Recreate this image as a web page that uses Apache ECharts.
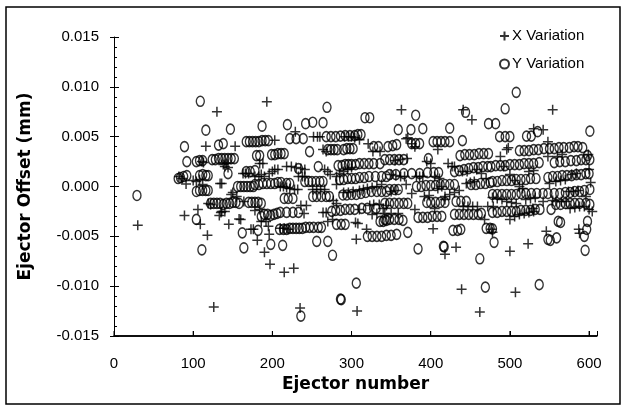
<!DOCTYPE html>
<html>
<head>
<meta charset="utf-8">
<script src="https://cdn.jsdelivr.net/npm/echarts@6/dist/echarts.min.js"></script>
<style>
  html, body { margin: 0; padding: 0; background: #fff; }
  #chart { width: 624px; height: 406px; }
</style>
</head>
<body>
<div id="chart"></div>
<script>
// ejector number, offset in micrometres
const xVariation = [
  [30,-3.9],
  [82,1.0],[86,0.8],[91,0.25],[89,-2.9],[100,0.6],[104,0.5],[106,-2.3],[108,0.7],[109,-3.8],[111,2.5],[112,0.2],[113,2.4],[116,4.05],[118,-4.9],[119,-1.7],[122,-1.8],[126,-12.1],[130,7.5],[133,-2.9],[134,0.3],[135,-2.6],
  [136,-2.5],[140,-2.5],[138,2.2],[140,2.0],[142,2.3],[144,1.9],[145,-3.8],[148,-0.8],[150,-0.6],[153,4.05],[136,0.3],
  [155,-1.0],[158,-3.25],[160,-3.3],[163,1.3],[166,1.3],[170,1.3],[173,-4.3],[176,-4.3],[164,-1.5],
  [178,1.0],[181,-5.4],[183,1.0],[184,2.3],[188,2.3],[186,1.2],
  [190,-6.6],[193,8.5],[195,-4.0],[196,-4.8],[197,-7.8],[190,1.0],[196,1.3],[200,1.5],[203,1.7],[203,4.65],[207,1.7],
  [178,-2.4],[184,-2.3],[186,-3.5],[192,-3.5],
  [210,0.0],[214,0.0],[218,-0.1],[222,-0.2],[228,-0.3],[232,-0.3],
  [215,-8.6],[227,-8.2],[229,5.5],[235,-12.2],[236,-1.9],
  [218,2.0],[224,2.0],[230,1.9],[236,1.8],[241,1.7],
  [233,1.0],[238,1.0],[241,1.0],[243,-1.9],
  [210,-4.2],[215,-4.2],[220,-4.3],[240,-2.7],
  [251,-0.3],[256,-0.3],[261,-0.3],[266,-0.3],
  [252,5.0],[257,5.0],[260,5.0],[264,3.7],[268,3.5],[264,-2.6],[268,-2.6],
  [266,1.7],[270,1.5],[273,1.2],[277,-1.4],[281,-1.7],[281,1.0],[281,0.2],
  [270,-3.5],[276,-3.3],
  [285,1.3],[290,1.5],[295,1.7],[300,1.9],
  [291,5.0],[296,5.0],[300,5.0],
  [306,-5.3],[308,-3.7],[305,-3.6],[307,-12.5],
  [310,-2.3],[319,-4.3],[323,-1.9],[328,-1.8],[335,-1.8],[344,-1.9],
  [321,4.3],[327,3.5],[336,3.5],[304,4.9],[310,4.7],
  [310,-0.4],[315,-0.3],[320,-0.2],[326,-0.1],[332,0.0],[338,0.2],
  [290,-0.6],[296,-0.6],[302,-0.5],
  [326,-2.8],[332,-2.7],[340,-2.2],
  [342,-2.7],[350,-2.7],[359,-2.7],
  [350,1.2],[356,1.1],[362,1.0],[367,1.0],
  [363,7.7],[369,4.8],[371,4.9],[376,4.3],[380,4.0],
  [369,0.2],[376,-0.7],[380,-2.3],[382,1.0],[386,1.0],[390,1.0],
  [350,-0.5],[356,-0.4],
  [355,2.6],[362,2.7],[370,2.8],
  [392,-1.0],[398,-0.9],[403,-4.25],[405,-2.2],[405,1.0],[409,3.7],[409,-0.2],[411,0.8],
  [395,2.5],[400,2.3],
  [418,-1.0],[418,-1.3],[418,-6.8],[422,2.3],[427,2.0],[430,2.0],[414,0.0],
  [432,-6.1],[439,-10.3],[441,7.7],[441,-2.0],[447,-2.0],[453,-2.0],[459,-2.0],
  [445,0.3],[450,0.4],[455,0.5],
  [452,6.7],[458,1.7],[464,1.3],[470,0.8],
  [462,-12.6],[468,-3.3],[472,-2.0],[477,-4.3],[478,-4.6],[479,-2.0],
  [440,1.5],[446,1.5],[424,-0.8],[430,-0.6],[436,-0.4],
  [478,-1.1],[484,-1.2],[490,-1.3],[496,-1.5],[502,-1.6],[508,-1.7],
  [496,3.7],[498,3.9],[500,-6.5],[500,1.2],[506,0.6],[512,0.0],[516,-0.2],
  [500,-3.3],[506,-3.0],[512,-2.8],[518,-2.7],[524,-2.6],[530,-2.5],
  [507,-10.6],[523,-5.75],[529,-2.2],[530,5.8],
  [488,3.0],[492,2.0],
  [520,-1.3],[526,-1.2],[532,-1.1],[524,1.5],[530,1.6],
  [542,-1.5],[558,-1.5],[565,-1.5],[571,-1.5],
  [554,7.7],[542,5.7],[546,-4.5],[548,4.5],[548,3.0],[550,0.3],[554,-1.4],[558,0.5],[564,0.6],[570,0.7],
  [560,3.0],[566,3.2],
  [576,-2.2],[582,-2.1],[588,-2.0],[594,-2.0],
  [574,-0.5],[580,-0.5],[586,-0.4],
  [578,1.2],[584,1.3],
  [587,-4.3],[588,-4.7],[596,-1.0],[599,3.2],[600,1.7],[600,-2.3],[602,0.4],[604,-2.5]
];

const yVariation = [
  [29,-0.9],
  [81,0.8],[84,0.9],[88,1.0],[92,1.1],[89,4.0],
  [92,2.5],[104,2.5],[108,2.6],[112,2.6],
  [104,-0.5],[108,-0.4],[112,-0.4],[116,-0.4],[119,-0.4],
  [108,1.1],[112,1.2],[116,1.1],[119,1.1],
  [104,-3.3],[109,8.55],[111,-6.35],[116,5.65],
  [122,-1.7],[126,-1.7],[130,-1.7],[124,2.7],[128,2.7],
  [132,4.15],[138,4.3],
  [132,2.8],[136,2.8],[140,2.8],[144,2.8],[148,2.8],[152,2.8],
  [134,-1.7],[138,-1.8],[142,-1.7],[146,-1.7],[150,-1.6],[154,-1.6],
  [144,1.3],[147,5.75],
  [156,0.0],[160,0.0],[164,0.0],[168,0.0],[172,0.0],[176,0.0],
  [158,-1.7],[162,-4.65],[164,-6.15],
  [167,4.5],[171,4.5],[175,4.5],[179,4.5],[183,4.5],[187,4.6],[191,4.6],[195,4.6],
  [187,6.05],
  [180,3.1],[184,3.1],[199,3.2],[203,3.2],[207,3.3],[211,3.3],[215,3.3],
  [167,1.5],[172,1.5],[178,1.6],
  [178,0.2],[183,0.2],[188,0.3],[193,0.3],[198,0.3],[203,0.3],[207,0.4],[211,0.4],
  [170,-1.6],[174,-1.6],[178,-1.6],[182,-1.6],[186,-1.7],
  [186,-3.0],[190,-2.8],[194,-2.8],[198,-2.9],[202,-2.8],[206,-2.7],[210,-2.6],
  [182,-4.4],[198,-5.8],
  [213,-5.9],[219,6.2],[242,6.3],[251,6.45],
  [218,0.3],[222,0.3],
  [215,-1.2],[220,-1.2],[226,-1.2],
  [218,-2.6],[226,-2.6],[233,-2.6],
  [209,-4.3],[214,-4.3],[218,-4.3],[222,-4.2],[226,-4.2],[230,-4.2],[234,-4.2],[238,-4.2],[242,-4.1],[247,-4.1],[252,-4.1],[258,-4.1],[262,-4.1],
  [222,4.8],[230,4.8],[239,4.8],
  [233,1.8],[236,-13.0],
  [241,0.5],[246,0.5],[250,0.5],[255,0.5],[260,0.5],[264,0.5],
  [247,3.5],
  [251,-1.0],[256,-1.0],[262,-1.0],[268,-1.0],[272,-1.0],
  [256,-5.5],[258,2.0],
  [264,6.4],[269,7.95],
  [268,5.0],[274,5.0],[280,5.0],[286,5.05],[292,5.1],[298,5.1],[304,5.1],[308,5.2],
  [270,3.7],[274,3.7],[278,3.7],[282,3.7],[290,3.7],[294,3.8],[298,3.8],[302,3.8],
  [283,2.1],[288,2.1],[292,2.2],[296,2.2],[300,2.2],[305,2.2],[310,2.3],[316,2.3],[322,2.3],[328,2.3],[336,2.3],
  [285,0.7],[290,0.7],[295,0.8],[300,0.8],[305,0.8],[310,0.9],[316,0.9],[322,1.0],[330,1.0],[338,1.0],[344,1.0],
  [270,-5.5],[276,-6.9],[286,-11.3],[287,-11.35],
  [275,-2.5],[280,-2.4],[286,-2.4],[292,-2.3],[298,-2.3],[304,-2.3],[313,-2.2],[320,-2.2],[331,-2.2],
  [281,-3.8],[287,-3.8],[292,-3.8],
  [289,-0.85],[294,-0.85],[300,-0.8],[306,-0.8],[312,-0.7],[318,-0.6],[325,-0.5],[332,-0.5],[338,-0.5],[344,-0.5],
  [306,-9.7],
  [317,6.9],[323,6.9],[312,5.2],
  [320,-5.0],[326,-5.0],[332,-5.0],[338,-5.0],[344,-4.9],[350,-4.9],
  [336,-3.5],[340,-3.5],[344,-3.4],
  [328,4.0],[334,4.0],
  [346,4.0],[352,4.1],[357,4.2],
  [342,2.7],[348,2.7],[354,2.7],[360,2.7],[366,2.7],
  [348,1.2],[356,1.2],[366,1.3],[376,1.3],[386,1.3],[396,1.4],[404,1.4],[410,1.4],
  [348,-0.3],[354,-0.3],[359,-0.3],
  [342,-1.7],[348,-1.7],[354,-1.7],[360,-1.7],[366,-1.7],[371,-1.7],
  [342,-3.3],[348,-3.3],[354,-3.3],[360,-3.3],[365,-3.4],
  [357,-4.8],[371,-4.6],
  [359,5.7],[375,5.7],[381,7.15],[390,5.8],
  [376,4.3],[381,4.3],[386,4.3],
  [382,0.0],[388,0.0],[394,0.1],[400,0.1],[406,0.1],[412,0.2],[418,0.2],[424,0.2],[430,0.2],
  [384,-6.25],
  [384,-3.1],[390,-3.1],[396,-3.1],[402,-3.0],[408,-3.0],[414,-3.0],
  [395,-1.6],[400,-1.6],[406,-1.6],[412,-1.6],[418,-1.6],
  [397,2.8],
  [403,4.5],[408,4.5],[413,4.5],[418,4.5],[424,4.5],[440,4.6],
  [424,5.85],[444,7.45],
  [416,-6.0],[417,-6.05],
  [430,1.5],[436,1.6],[442,1.7],[448,1.8],[454,1.9],[460,1.9],[466,2.0],[472,2.0],
  [437,3.1],[443,3.2],[449,3.2],[455,3.2],[461,3.3],[467,3.3],[473,3.3],
  [432,-1.5],[438,-1.5],[445,-1.5],
  [430,-2.8],[436,-2.8],[442,-2.8],[448,-2.8],[454,-2.8],[460,-2.8],[464,-2.7],
  [428,-4.4],[434,-4.4],[438,-4.3],
  [451,0.2],[457,0.2],[463,0.3],[469,0.3],[475,0.4],
  [462,-7.25],[469,-10.1],[473,6.3],[482,6.3],
  [470,-4.2],[475,-4.2],[480,-5.6],
  [487,5.0],[494,5.0],[500,5.0],[494,7.8],[508,9.45],
  [521,5.05],[527,5.05],[535,5.5],
  [512,3.6],[518,3.6],[524,3.6],[530,3.7],[536,3.7],[543,3.8],[550,3.8],[556,3.8],[562,3.9],[568,3.9],[575,3.9],[581,4.0],[586,4.0],
  [476,2.0],[482,2.1],[488,2.1],[494,2.1],[500,2.2],[506,2.2],[512,2.2],[518,2.3],[524,2.3],[530,2.3],[537,2.4],
  [478,0.5],[484,0.5],[490,0.6],[496,0.6],[502,0.6],[508,0.7],[514,0.7],[520,0.7],[526,0.8],[533,0.8],
  [478,-0.8],[484,-0.8],[490,-0.8],[496,-0.8],[502,-0.8],[508,-0.8],[514,-0.7],[520,-0.7],[527,-0.7],[534,-0.7],[542,-0.7],
  [478,-2.6],[484,-2.6],[490,-2.5],[496,-2.5],[502,-2.5],[508,-2.5],[514,-2.4],[520,-2.4],[526,-2.4],[532,-2.3],[538,-2.3],
  [478,-4.25],[537,-9.85],
  [548,-5.3],[551,-5.4],[559,-5.15],[561,-3.5],[564,-3.6],
  [556,2.4],[563,2.5],[570,2.5],[577,2.6],[584,2.6],[590,2.7],[596,2.7],[601,2.7],
  [548,0.9],[554,1.0],[560,1.0],[566,1.1],[572,1.1],[578,1.1],[584,1.2],[590,1.2],[596,1.3],[600,1.3],
  [548,-0.7],[556,-0.7],[563,-0.7],[570,-0.6],[576,-0.6],[582,-0.5],[588,-0.5],[594,-0.4],[601,-0.3],
  [552,-2.3],[558,-1.8],[564,-1.8],[570,-1.7],[576,-1.7],[582,-1.7],[588,-1.7],[596,-1.7],[601,-1.8],
  [592,3.9],[598,3.1],
  [594,-5.0],[595,-6.4],[598,-3.5],[597,-4.3],[601,5.55]
];

const xTicks = [0, 100, 200, 300, 400, 500, 600];
const yTicks = [-0.015, -0.010, -0.005, 0.000, 0.005, 0.010, 0.015];

const toMm = arr => arr.map(p => [p[0], p[1] / 1000]);
const font = 'Liberation Sans, Arial, sans-serif';
const plusSymbol = 'path://M5,0L5,10M0,5L10,5';

const chart = echarts.init(document.getElementById('chart'), null, {renderer: 'canvas'});

const frame = {
    type: 'rect',
    shape: {x: 6, y: 7, width: 614, height: 397},
    style: {fill: 'none', stroke: '#000', lineWidth: 1.5},
    silent: true
};

const option = {
    animation: false,
    backgroundColor: '#fff',
    grid: {left: 114, right: 27, top: 37, bottom: 70},
    graphic: [frame],
    legend: {
        orient: 'vertical',
        left: 494,
        top: 23,
        itemWidth: 9,
        itemHeight: 9,
        itemGap: 12,
        textStyle: {fontFamily: font, fontSize: 15, color: '#000', lineHeight: 16, padding: [0, 0, 0, -2]},
        data: ['X Variation', 'Y Variation']
    },
    xAxis: {
        type: 'value',
        min: xTicks[0],
        max: 610,
        interval: 100,
        name: 'Ejector number',
        nameLocation: 'middle',
        nameGap: 40,
        nameTextStyle: {fontFamily: 'DejaVu Sans', fontWeight: 'bold', fontSize: 17, color: '#000'},
        axisLine: {show: true, onZero: false, lineStyle: {color: '#000', width: 1.5}},
        axisTick: {show: true, inside: true, length: 5, lineStyle: {color: '#000'}},
        axisLabel: {
            margin: 20, fontFamily: font, fontSize: 15, color: '#000',
            formatter: v => xTicks.indexOf(v) >= 0 ? String(v) : ''
        },
        splitLine: {show: false}
    },
    yAxis: [{
        type: 'value',
        min: yTicks[0],
        max: yTicks[yTicks.length - 1],
        interval: 0.005,
        name: 'Ejector Offset (mm)',
        nameLocation: 'middle',
        nameGap: 80,
        nameTextStyle: {fontFamily: 'DejaVu Sans', fontWeight: 'bold', fontSize: 17, color: '#000'},
        axisLine: {show: true, onZero: false, lineStyle: {color: '#000', width: 1}},
        axisTick: {show: true, inside: true, length: 5, lineStyle: {color: '#000'}},
        minorTick: {show: true, splitNumber: 5, length: 3, lineStyle: {color: '#000'}},
        axisLabel: {
            margin: 15, fontFamily: font, fontSize: 15, color: '#000',
            formatter: v => v.toFixed(3)
        },
        splitLine: {show: false}
    }, {
        // outer half of the major ticks
        type: 'value',
        position: 'left',
        min: yTicks[0],
        max: yTicks[yTicks.length - 1],
        interval: 0.005,
        axisLine: {show: false, onZero: false},
        axisTick: {show: true, inside: false, length: 4, lineStyle: {color: '#000'}},
        axisLabel: {show: false},
        splitLine: {show: false}
    }],
    series: [{
        name: 'X Variation',
        type: 'scatter',
        symbol: plusSymbol,
        symbolSize: 10,
        silent: true,
        itemStyle: {color: 'rgba(0,0,0,0)', borderColor: '#000', borderWidth: 1.5},
        data: toMm(xVariation)
    }, {
        name: 'Y Variation',
        type: 'scatter',
        symbol: 'circle',
        symbolSize: [8, 10],
        silent: true,
        itemStyle: {color: 'rgba(0,0,0,0)', borderColor: '#000', borderWidth: 1.5},
        data: toMm(yVariation)
    }]
};

chart.setOption(option);

// the bottom axis line went missing with the full data, so redraw it on the grid edge
const rect = chart.getModel().getComponent('grid', 0).coordinateSystem.getRect();
const yb = rect.y + rect.height;
const extra = [frame, {
    type: 'line',
    silent: true,
    shape: {x1: rect.x, y1: yb, x2: rect.x + rect.width, y2: yb},
    style: {stroke: '#000', lineWidth: 1.5}
}];
xTicks.forEach(t => {
    const px = chart.convertToPixel({xAxisIndex: 0}, t);
    extra.push({
        type: 'line',
        silent: true,
        shape: {x1: px, y1: yb, x2: px, y2: yb - 5},
        style: {stroke: '#000', lineWidth: 1}
    });
});
chart.setOption({graphic: extra});
</script>
</body>
</html>
